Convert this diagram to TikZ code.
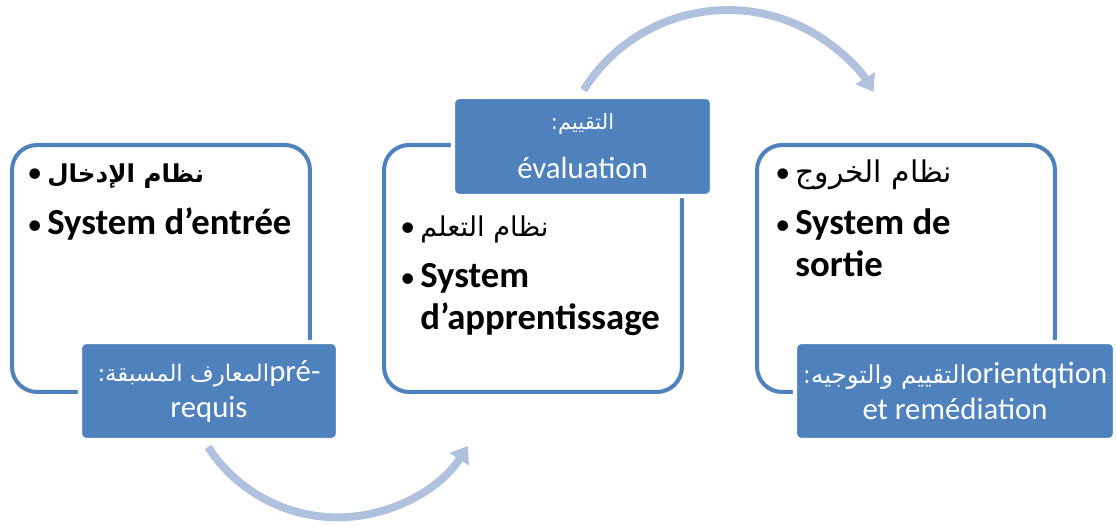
\documentclass[tikz,border=0pt]{standalone}
\usepackage{fontspec}
\setmainfont{Carlito}
\newfontfamily\arabicfont[Script=Arabic]{DejaVu Sans}
\TeXXeTstate=1
\usetikzlibrary{arrows.meta,positioning}
\definecolor{smartblue}{RGB}{79,129,189}
\definecolor{arcblue}{RGB}{176,193,222}
\newcommand\blt{\makebox[0.4cm][l]{\mdseries\fontsize{17}{20}\selectfont\textbullet}}
\tikzset{
  stagebox/.style={draw=smartblue,line width=2.3pt,rounded corners=0.5cm,fill=white,
    minimum width=5.96cm,minimum height=4.94cm},
  tagbox/.style={draw=white,line width=2.5pt,fill=smartblue,rounded corners=0.12cm,
    text=white,align=center,inner sep=0pt,font=\fontsize{17.5}{20.5}\selectfont},
  flowarc/.style={arcblue,line width=4.5pt,-{Triangle[length=0.32cm,width=0.44cm]}},
  itemtext/.style={anchor=base west,inner sep=0pt,font=\bfseries\fontsize{20.9}{24}\selectfont}
}

\begin{document}
\begin{tikzpicture}[x=0.02cm,y=0.02cm]
  \useasboundingbox (0,0) rectangle (1117,527);
  % curved arrows between the stages
  \coordinate (lowstart) at (208,80);
  \coordinate (highstart) at (583.6,436.9);
  \draw[flowarc] (lowstart) arc[start angle=213,end angle=327.5,radius=3.09cm];
  \draw[flowarc] (highstart) arc[start angle=148,end angle=31.3,radius=3.406cm];
  % the three stages
  \node[stagebox] (inbox) at (161,258.5) {};
  \node[stagebox] (learnbox) at (533,258.5) {};
  \node[stagebox] (outbox) at (906,258.5) {};
  % stage texts
  \node[itemtext] (in1) at (27,344) {\blt{\arabicfont\fontsize{14}{20}\selectfont\beginR نظام الإدخال\endR}};
  \node[itemtext] (in2) at (27,292) {\blt System d’entrée};
  \node[itemtext] (learn1) at (400,290) {\blt{\mdseries\arabicfont\fontsize{15.5}{20}\selectfont\beginR نظام التعلم\endR}};
  \node[itemtext] (learn2) at (400,239) {\blt System};
  \node[itemtext] (learn3) at (420,197) {d’apprentissage};
  \node[itemtext] (out1) at (775,344) {\blt{\mdseries\arabicfont\fontsize{17}{20}\selectfont\beginR نظام الخروج\endR}};
  \node[itemtext] (out2) at (775,292) {\blt System de};
  \node[itemtext] (out3) at (795,250) {sortie};
  % blue tags
  \node[tagbox,minimum width=5.16cm,minimum height=1.96cm] (pretag) at (209,136)
    {{\arabicfont\fontsize{13}{17}\selectfont\beginR المعارف المسبقة:\endR}pré-\\requis};
  \node[tagbox,minimum width=5.18cm,minimum height=1.98cm] (evaltag) at (582.5,380.5)
    {{\arabicfont\fontsize{12}{15}\selectfont\beginR التقييم:\endR}\\[0.26cm]évaluation};
  \node[tagbox,minimum width=6.4cm,minimum height=1.96cm] (remtag) at (955,136)
    {{\arabicfont\fontsize{14}{17}\selectfont\beginR التقييم والتوجيه:\endR}orientqtion\\et remédiation};
\end{tikzpicture}
\end{document}
